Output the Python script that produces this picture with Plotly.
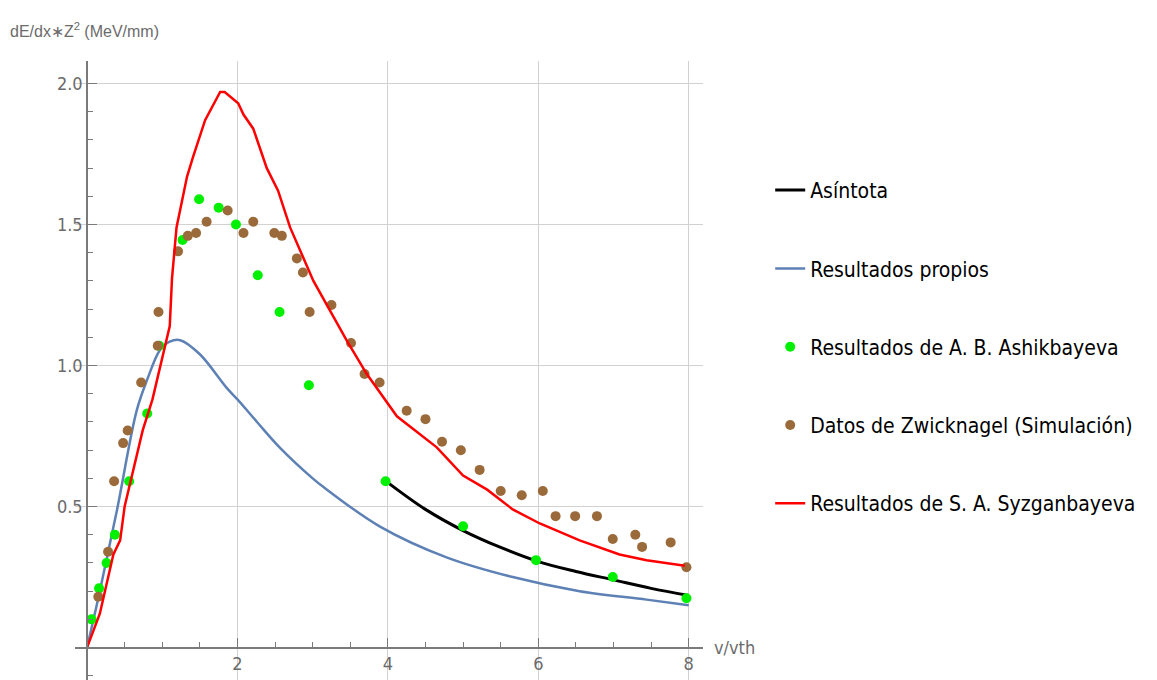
import plotly.graph_objects as go

# ---------------- data ----------------
asint_x = [4.0, 4.5, 5.0, 5.5, 6.0, 6.5, 7.0, 7.5, 8.0]
asint_y = [0.585, 0.49, 0.415, 0.355, 0.305, 0.27, 0.24, 0.21, 0.185]

propios_x = [0, 0.17, 0.40, 0.66, 0.80, 0.97, 1.10, 1.24, 1.50, 1.86, 2.0, 2.26, 2.56,
             3.0, 3.14, 3.89, 4.78, 5.66, 6.55, 7.44, 8.0]
propios_y = [0, 0.20, 0.49, 0.84, 0.95, 1.055, 1.085, 1.09, 1.04, 0.92, 0.88, 0.80, 0.71,
             0.60, 0.57, 0.43, 0.32, 0.25, 0.20, 0.17, 0.15]

ashik_x = [0.06, 0.16, 0.26, 0.37, 0.56, 0.80, 0.96, 1.27, 1.49, 1.75, 1.98, 2.27,
           2.56, 2.95, 3.97, 5.0, 5.97, 6.99, 7.97]
ashik_y = [0.10, 0.21, 0.30, 0.40, 0.59, 0.83, 1.07, 1.445, 1.59, 1.56, 1.50, 1.32,
           1.19, 0.93, 0.59, 0.43, 0.31, 0.25, 0.175]

zwick_x = [0.15, 0.28, 0.36, 0.48, 0.54, 0.72, 0.94, 0.95, 1.21, 1.34, 1.45, 1.59,
           1.87, 2.08, 2.21, 2.49, 2.59, 2.79, 2.87, 2.96, 3.25, 3.51, 3.69, 3.89,
           4.25, 4.50, 4.72, 4.97, 5.22, 5.50, 5.78, 6.06, 6.23, 6.49, 6.78, 6.99,
           7.29, 7.38, 7.76, 7.97]
zwick_y = [0.18, 0.34, 0.59, 0.725, 0.77, 0.94, 1.07, 1.19, 1.405, 1.46, 1.47, 1.51,
           1.55, 1.47, 1.51, 1.47, 1.46, 1.38, 1.33, 1.19, 1.215, 1.08, 0.97, 0.94,
           0.84, 0.81, 0.73, 0.70, 0.63, 0.555, 0.54, 0.555, 0.466, 0.466, 0.466,
           0.385, 0.40, 0.357, 0.373, 0.285]

syz_x = [0, 0.17, 0.35, 0.44, 0.50, 0.57, 0.74, 0.87, 0.97, 1.10, 1.13, 1.19, 1.33,
         1.41, 1.57, 1.77, 1.83, 2.01, 2.08, 2.21, 2.39, 2.54, 2.70, 3.01, 3.45, 3.72,
         4.12, 4.65, 5.0, 5.32, 5.66, 6.02, 6.55, 7.08, 7.44, 7.95]
syz_y = [0, 0.12, 0.33, 0.38, 0.50, 0.58, 0.77, 0.88, 0.99, 1.14, 1.31, 1.49, 1.67,
         1.74, 1.87, 1.97, 1.97, 1.93, 1.89, 1.84, 1.70, 1.62, 1.49, 1.30, 1.09, 0.97,
         0.82, 0.71, 0.61, 0.56, 0.49, 0.44, 0.38, 0.33, 0.31, 0.29]

x_ticks = [2, 4, 6, 8]
y_ticks = [0.5, 1.0, 1.5, 2.0]
x_range = [-0.16, 8.19]
y_range = [-0.115, 2.08]

# ---------------- styling ----------------
NARROW = "Liberation Sans Narrow, Arial Narrow, DejaVu Sans Condensed, Liberation Sans, sans-serif"
REG = "Liberation Sans, Arial, sans-serif"
GRID = "#d2d2d2"
AXIS = "#7a7a7a"
TICKFONT = dict(family=NARROW, size=18, color="#6b6b6b")

fig = go.Figure()
fig.add_trace(go.Scatter(x=asint_x, y=asint_y, mode="lines", name="Asíntota",
                         line=dict(color="#000000", width=3, shape="spline"),
                         legendgroup="a"))
fig.add_trace(go.Scatter(x=propios_x, y=propios_y, mode="lines", name="Resultados propios",
                         line=dict(color="#5E81B5", width=2.5, shape="spline"),
                         legendgroup="b"))
fig.add_trace(go.Scatter(x=ashik_x, y=ashik_y, mode="markers",
                         name="Resultados de A. B. Ashikbayeva",
                         marker=dict(color="#00F000", size=10), legendgroup="c"))
fig.add_trace(go.Scatter(x=zwick_x, y=zwick_y, mode="markers",
                         name="Datos de Zwicknagel (Simulación)",
                         marker=dict(color="#9A6A3B", size=10), legendgroup="d"))
fig.add_trace(go.Scatter(x=syz_x, y=syz_y, mode="lines",
                         name="Resultados de S. A. Syzganbayeva",
                         line=dict(color="#FF0000", width=2.5), legendgroup="e"))

xpos = (0 - y_range[0]) / (y_range[1] - y_range[0])
ypos = (0 - x_range[0]) / (x_range[1] - x_range[0])

fig.update_layout(
    width=1157, height=680,
    margin=dict(l=67, r=462, t=53, b=8, autoexpand=False),
    paper_bgcolor="white", plot_bgcolor="white",
    showlegend=True,
    legend=dict(x=1.107, y=0.824, xanchor="left", yanchor="top",
                font=dict(family=NARROW, size=21, color="#000000"),
                tracegroupgap=48, bgcolor="rgba(0,0,0,0)"),
    xaxis=dict(range=x_range, anchor="free", position=xpos, automargin=False,
               tickmode="array", tickvals=x_ticks, ticktext=[str(v) for v in x_ticks],
               showline=True, linecolor=AXIS, linewidth=1.6,
               ticks="inside", ticklen=9, tickwidth=1.3, tickcolor=AXIS,
               showgrid=True, gridcolor=GRID, gridwidth=1, zeroline=False,
               minor=dict(tick0=0, dtick=0.5, ticks="inside", ticklen=5,
                          tickcolor=AXIS, tickwidth=1.2, showgrid=False),
               tickfont=TICKFONT),
    yaxis=dict(range=y_range, anchor="free", position=ypos, automargin=False,
               tickmode="array", tickvals=y_ticks, ticktext=[f"{v:.1f}" for v in y_ticks],
               showline=True, linecolor=AXIS, linewidth=1.6,
               ticks="inside", ticklen=9, tickwidth=1.3, tickcolor=AXIS,
               showgrid=True, gridcolor=GRID, gridwidth=1, zeroline=False,
               minor=dict(tick0=0, dtick=0.1, ticks="inside", ticklen=5,
                          tickcolor=AXIS, tickwidth=1.2, showgrid=False),
               tickfont=TICKFONT),
    annotations=[
        dict(text="dE/dx∗Z<sup>2</sup> (MeV/mm)", xref="paper", yref="paper",
             x=(8 - 75) / 628, y=(680 - 30) / 619, xanchor="left", yanchor="middle",
             showarrow=False, font=dict(family=REG, size=16, color="#6b6b6b")),
        dict(text="v/vth", xref="x", yref="y", x=x_range[1], y=0, xanchor="left",
             yanchor="middle", xshift=9, showarrow=False,
             font=dict(family=NARROW, size=18, color="#6b6b6b")),
    ],
)

fig.write_html("out.html")
